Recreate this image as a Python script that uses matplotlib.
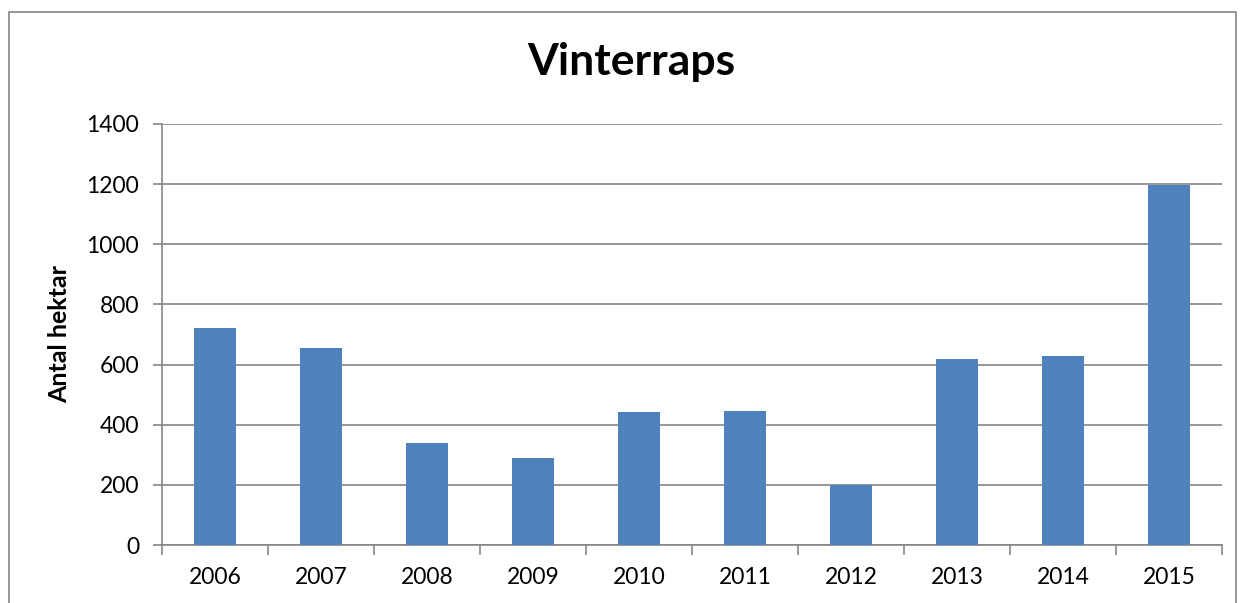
import matplotlib.pyplot as plt
from matplotlib.patches import Rectangle
import numpy as np

years = ['2006', '2007', '2008', '2009', '2010', '2011', '2012', '2013', '2014', '2015']
hektar = [720, 655, 340, 288, 443, 446, 200, 620, 630, 1198]

plt.rcParams['font.family'] = ['Lato', 'DejaVu Sans']
grey = '#868686'

fig = plt.figure(figsize=(12.46, 6.03), dpi=100)
W, H = 1246, 603
ax = fig.add_axes([162 / W, 1 - 545 / H, (1222 - 162) / W, (545 - 124) / H])

# outer chart frame
fig.patches.append(Rectangle((9 / W, -0.05), (1236 - 9) / W, 1 - 12 / H + 0.05,
                             transform=fig.transFigure, fill=False,
                             edgecolor=grey, linewidth=1.2))

x = np.arange(len(years))
ax.bar(x, hektar, width=0.4, color='#4F81BD', zorder=3)

ax.set_xlim(-0.5, len(years) - 0.5)
ax.set_ylim(0, 1400)
ax.set_yticks(range(0, 1401, 200))
ax.set_xticks(x)
ax.set_xticklabels(years)
ax.set_xticks(np.arange(-0.5, len(years)), minor=True)

ax.grid(axis='y', color=grey, linewidth=1.2, zorder=0)
for s in ['top', 'right']:
    ax.spines[s].set_visible(False)
for s in ['left', 'bottom']:
    ax.spines[s].set_color(grey)
    ax.spines[s].set_linewidth(1.2)

ax.tick_params(axis='x', which='major', length=0, pad=16, labelsize=16.5)
ax.tick_params(axis='x', which='minor', length=7, color=grey, width=1.2)
ax.tick_params(axis='y', length=6.5, color=grey, width=1.2, pad=10, labelsize=16.5)

# y label and title placed in figure coords
fig.text(60 / W, 1 - 334 / H, 'Antal hektar', rotation=90, ha='center', va='center',
         fontsize=18, fontweight='bold')
fig.text(631 / W, 1 - 62 / H, 'Vinterraps', ha='center', va='center',
         fontsize=32, fontweight='bold')

fig.savefig('out.png', dpi=100)
